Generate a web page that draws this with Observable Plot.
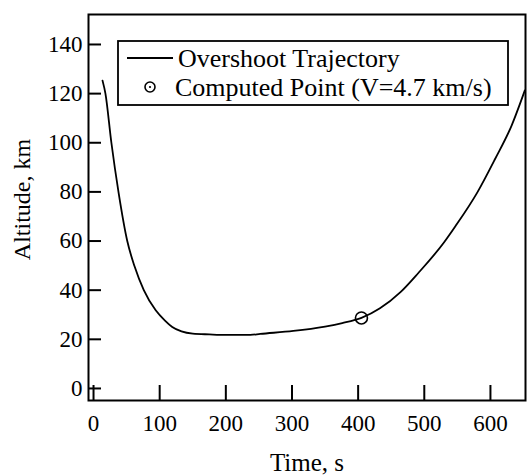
<!DOCTYPE html>
<html>
<head>
<meta charset="utf-8">
<script src="https://cdn.jsdelivr.net/npm/d3@7"></script>
<script src="https://cdn.jsdelivr.net/npm/@observablehq/plot@0.6"></script>
<style>
  body { margin: 0; background: #fff; }
  #chart { width: 530px; height: 476px; }
</style>
</head>
<body>
<div id="chart"></div>
<script>
// ---- data ----
const trajTime = [13.6, 18, 27, 38, 51, 62, 76, 94, 108, 119, 133, 150, 175, 200, 237, 252, 302, 350, 376, 405, 433, 464, 491, 530, 547, 580, 607, 632, 652];
const trajAlt  = [125.3, 120, 100, 79.5, 60, 49.7, 40, 31.8, 27.6, 25, 23.2, 22.3, 22, 21.8, 21.8, 22.2, 23.4, 25.2, 26.6, 28.7, 32.6, 39.2, 47, 59.5, 66, 79.7, 93.4, 107, 121.3];
const pointTime = [405];
const pointAlt = [28.7];
const xTicks = [0, 100, 200, 300, 400, 500, 600];
const yTicks = [0, 20, 40, 60, 80, 100, 120, 140];
const seriesNames = ["Overshoot Trajectory", "Computed Point (V=4.7 km/s)"];
const xLabel = "Time, s";
const yLabel = "Altitude, km";

const traj = trajTime.map((t, i) => ({t, alt: trajAlt[i]}));
const points = pointTime.map((t, i) => ({t, alt: pointAlt[i]}));

// ---- layout ----
const W = 530, H = 476;
const mL = 88, mR = 5, mT = 14, mB = 76;
const frameW = W - mL - mR, frameH = H - mT - mB;
const serif = "'Liberation Serif', 'Times New Roman', Times, serif";

const svg = Plot.plot({
  width: W, height: H,
  marginLeft: mL, marginRight: mR, marginTop: mT, marginBottom: mB,
  style: {fontFamily: serif, fontSize: "23px", background: "#fff", color: "#000", overflow: "visible"},
  x: {domain: [-7.6, 653]},
  y: {domain: [-4.9, 152.2]},
  marks: [
    Plot.frame({stroke: "#000", strokeWidth: 2}),
    Plot.axisX(xTicks, {tickSize: 0, tickPadding: 14, fontSize: 23, label: null}),
    Plot.axisY(yTicks, {tickSize: 0, tickPadding: 6, fontSize: 23, label: null}),
    Plot.text([xLabel], {frameAnchor: "bottom", dy: 70, lineAnchor: "bottom", textAnchor: "middle", fontSize: 25, fontFamily: serif}),
    Plot.text([yLabel], {frameAnchor: "left", rotate: -90, dx: -66, dy: -8, textAnchor: "middle", lineAnchor: "middle", fontSize: 24, fontFamily: serif}),
    Plot.tickX(xTicks, {x: d => d, stroke: "#000", strokeWidth: 2, insetTop: frameH - 15}),
    Plot.tickY(yTicks, {y: d => d, stroke: "#000", strokeWidth: 2, insetRight: frameW - 13}),
    Plot.line(traj, {x: "t", y: "alt", curve: "monotone-x", stroke: "#000", strokeWidth: 1.8}),
    Plot.dot(points, {x: "t", y: "alt", r: 6, stroke: "#000", strokeWidth: 1.6, fill: "none"})
  ]
});

// ---- legend box drawn inside the plot area ----
const g = d3.select(svg).append("g")
  .attr("font-family", serif).attr("font-size", 26).attr("text-anchor", "start");
g.append("rect").attr("x", 118).attr("y", 41).attr("width", 390).attr("height", 64)
  .attr("fill", "#fff").attr("stroke", "#000").attr("stroke-width", 1.8);
g.append("line").attr("x1", 127).attr("x2", 173).attr("y1", 58).attr("y2", 58)
  .attr("stroke", "#000").attr("stroke-width", 1.8);
g.append("text").attr("x", 178).attr("y", 67).attr("fill", "#000").attr("text-anchor", "start").text(seriesNames[0]);
g.append("circle").attr("cx", 150).attr("cy", 87).attr("r", 5)
  .attr("fill", "none").attr("stroke", "#000").attr("stroke-width", 1.6);
g.append("circle").attr("cx", 150).attr("cy", 87).attr("r", 1.1).attr("fill", "#000");
g.append("text").attr("x", 175).attr("y", 96).attr("fill", "#000").attr("text-anchor", "start").text(seriesNames[1]);

document.getElementById("chart").appendChild(svg);
</script>
</body>
</html>
